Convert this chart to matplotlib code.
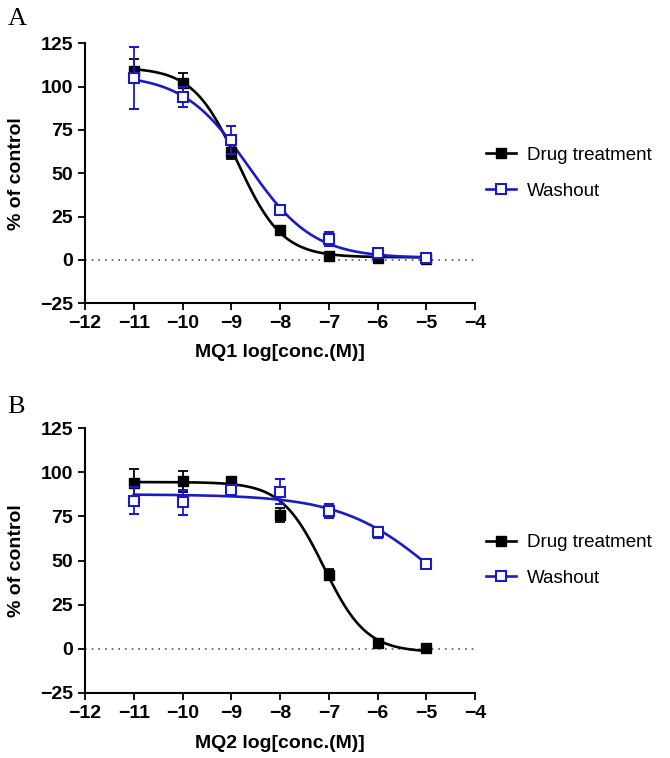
import numpy as np
import matplotlib
matplotlib.use("Agg")
import matplotlib.pyplot as plt
from matplotlib.lines import Line2D

plt.rcParams['font.family'] = ['Liberation Sans', 'DejaVu Sans']

# log[conc] used in both experiments
log_conc = [-11, -10, -9, -8, -7, -6, -5]

# panel A: MQ1
mq1_drug = [109, 102, 62, 17, 2, 1, 0.5]
mq1_drug_err = [7, 6, 4, 1.5, 1, 1, 1]
mq1_wash = [105, 94, 69, 29, 12, 4, 1]
mq1_wash_err = [18, 6, 8, 2, 4, 2, 1]

# panel B: MQ2
mq2_drug = [94, 95, 95, 76, 42, 3, 0.5]
mq2_drug_err = [8, 6, 2, 4, 3, 2, 1]
mq2_wash = [84, 83, 90, 89, 78, 66, 48]
mq2_wash_err = [7.5, 7, 3, 7, 4, 3, 2]

# fitted sigmoid parameters: top, bottom, logIC50, hill
mq1_drug_fit = [111, 1.5, -8.87, 0.95]
mq1_wash_fit = [107, 1, -8.65, 0.65]
mq2_drug_fit = [94.5, -2, -7.1, 1.0]
mq2_wash_fit = [87.5, 0, -4.8, 0.45]

BLUE = '#1a1ac8'


def sigmoid(x, p):
    top, bottom, c, h = p
    return bottom + (top - bottom) / (1 + 10 ** ((x - c) * h))


def panel(ax, drug, drug_err, wash, wash_err, drug_fit, wash_fit, xlabel):
    xs = np.linspace(min(log_conc), max(log_conc), 300)
    ax.plot([-12, -4], [0, 0], color='#555555', lw=1.2, ls=(0, (1, 3)), zorder=1)
    ax.plot(xs, sigmoid(xs, drug_fit), color='black', lw=1.9, zorder=3)
    ax.plot(xs, sigmoid(xs, wash_fit), color=BLUE, lw=1.9, zorder=3)
    ax.errorbar(log_conc, drug, yerr=drug_err, fmt='s', color='black',
                ms=7.5, capsize=3.5, elinewidth=1.3, capthick=1.3, zorder=4)
    ax.errorbar(log_conc, wash, yerr=wash_err, fmt='s', color=BLUE, mfc='white',
                mec=BLUE, mew=1.5, ms=7.5, capsize=3.5, elinewidth=1.3,
                capthick=1.3, zorder=5)
    ax.set_xlim(-12, -4)
    ax.set_ylim(-25, 125)
    ax.set_xticks(range(-12, -3))
    ax.set_yticks([-25, 0, 25, 50, 75, 100, 125])
    for s in ['top', 'right']:
        ax.spines[s].set_visible(False)
    for s in ['left', 'bottom']:
        ax.spines[s].set_linewidth(1.5)
    ax.tick_params(width=1.3, length=5, labelsize=14)
    for lab in ax.get_xticklabels() + ax.get_yticklabels():
        lab.set_fontweight('bold')
    ax.set_ylabel('% of control', fontsize=14, fontweight='bold')
    ax.yaxis.set_label_coords(-0.177, 0.5)
    ax.yaxis.label.set_va('center')
    ax.set_xlabel(xlabel, fontsize=14, fontweight='bold')
    ax.xaxis.set_label_coords(0.5, -0.19)
    ax.xaxis.label.set_va('center')
    handles = [
        Line2D([], [], color='black', lw=1.9, marker='s', ms=7),
        Line2D([], [], color=BLUE, lw=1.9, marker='s', ms=7, mfc='white', mec=BLUE, mew=1.5),
    ]
    ax.legend(handles, ['Drug treatment', 'Washout'], loc='center left',
              bbox_to_anchor=(0.985, 0.5), frameon=False, fontsize=13.5,
              handlelength=1.6, handletextpad=0.6, labelspacing=1.0)


fig = plt.figure(figsize=(6.7, 7.58), dpi=100)
ax1 = fig.add_axes([0.127, 0.600, 0.582, 0.343])
ax2 = fig.add_axes([0.127, 0.086, 0.582, 0.349])

panel(ax1, mq1_drug, mq1_drug_err, mq1_wash, mq1_wash_err,
      mq1_drug_fit, mq1_wash_fit, 'MQ1 log[conc.(M)]')
panel(ax2, mq2_drug, mq2_drug_err, mq2_wash, mq2_wash_err,
      mq2_drug_fit, mq2_wash_fit, 'MQ2 log[conc.(M)]')

fig.text(0.011, 1 - 25 / 758, 'A', family='Liberation Serif', fontsize=19)
fig.text(0.011, 1 - 413 / 758, 'B', family='Liberation Serif', fontsize=19)

fig.savefig('out.png', dpi=100)
